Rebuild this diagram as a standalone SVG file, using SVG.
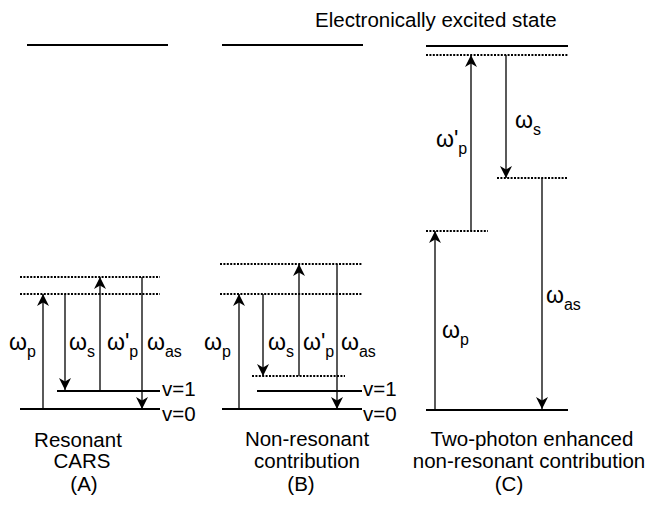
<svg xmlns="http://www.w3.org/2000/svg" width="645" height="506" viewBox="0 0 645 506">
<defs>
<style>
text{font-family:"Liberation Sans",Arial,sans-serif;fill:#000}
.t{font-size:20.5px}
.c{text-anchor:middle}
.w{font-size:23px}
.sub{font-size:16px}
.lvl{stroke:#000;stroke-width:2;fill:none}
.dot{stroke:#000;stroke-width:1.8;stroke-dasharray:2 1.4;fill:none}
.arr{stroke:#000;stroke-width:1.3;fill:none;marker-end:url(#ah)}
</style>
<marker id="ah" viewBox="0 0 12 12" refX="12" refY="6" markerWidth="13" markerHeight="12" markerUnits="userSpaceOnUse" orient="auto">
<path d="M0,0 L12,6 L0,12 L3.5,6 z" fill="#000"/>
</marker>
</defs>
<rect width="645" height="506" fill="#fff"/>

<g id="panelA">
<line class="lvl" x1="27" y1="45" x2="168" y2="45"/>
<line class="dot" x1="20" y1="277" x2="160" y2="277"/>
<line class="dot" x1="20" y1="294" x2="160" y2="294"/>
<line class="lvl" x1="57" y1="391" x2="160" y2="391"/>
<line class="lvl" x1="20" y1="409" x2="160" y2="409"/>
<text class="t" x="162" y="396">v=1</text>
<text class="t" x="162" y="421">v=0</text>
<text class="w" x="9" y="350">ω<tspan class="sub" dy="7">p</tspan></text>
<text class="w" x="69" y="350">ω<tspan class="sub" dy="7">s</tspan></text>
<text class="w" x="107" y="350">ω'<tspan class="sub" dy="7">p</tspan></text>
<text class="w" x="147" y="350">ω<tspan class="sub" dy="7">as</tspan></text>
<text class="t c" x="78" y="447">Resonant</text>
<text class="t c" x="82" y="468">CARS</text>
<text class="t c" x="84" y="491">(A)</text>
</g>

<g id="panelB">
<line class="lvl" x1="222" y1="45" x2="363" y2="45"/>
<line class="dot" x1="220" y1="264" x2="362" y2="264"/>
<line class="dot" x1="220" y1="294" x2="362" y2="294"/>
<line class="dot" x1="252" y1="376" x2="345" y2="376"/>
<line class="lvl" x1="257" y1="391" x2="362" y2="391"/>
<line class="lvl" x1="222" y1="409" x2="362" y2="409"/>
<text class="t" x="363" y="396">v=1</text>
<text class="t" x="363" y="421">v=0</text>
<text class="w" x="204" y="350">ω<tspan class="sub" dy="7">p</tspan></text>
<text class="w" x="268" y="350">ω<tspan class="sub" dy="7">s</tspan></text>
<text class="w" x="303" y="350">ω'<tspan class="sub" dy="7">p</tspan></text>
<text class="w" x="341" y="350">ω<tspan class="sub" dy="7">as</tspan></text>
<text class="t c" x="307" y="446">Non-resonant</text>
<text class="t c" x="307" y="468">contribution</text>
<text class="t c" x="301" y="491">(B)</text>
</g>

<g id="panelC">
<text class="t" x="315" y="27">Electronically excited state</text>
<line class="lvl" x1="426" y1="46" x2="568" y2="46"/>
<line class="dot" x1="426" y1="55" x2="568" y2="55"/>
<line class="dot" x1="497" y1="178" x2="567" y2="178"/>
<line class="dot" x1="426" y1="231" x2="488" y2="231"/>
<line class="lvl" x1="426" y1="410" x2="568" y2="410"/>
<text class="w" x="436" y="147">ω'<tspan class="sub" dy="7">p</tspan></text>
<text class="w" x="515" y="128">ω<tspan class="sub" dy="7">s</tspan></text>
<text class="w" x="546" y="303">ω<tspan class="sub" dy="7">as</tspan></text>
<text class="w" x="442" y="338">ω<tspan class="sub" dy="7">p</tspan></text>
<text class="t c" x="532" y="446">Two-photon enhanced</text>
<text class="t c" x="529" y="468">non-resonant contribution</text>
<text class="t c" x="509" y="491">(C)</text>
</g>

<g id="connectors">
<line class="arr" x1="43" y1="409" x2="43" y2="294"/>
<line class="arr" x1="65" y1="294" x2="65" y2="390"/>
<line class="arr" x1="100" y1="391" x2="100" y2="277"/>
<line class="arr" x1="142" y1="277" x2="142" y2="409"/>
<line class="arr" x1="239" y1="409" x2="239" y2="294"/>
<line class="arr" x1="263" y1="294" x2="263" y2="376"/>
<line class="arr" x1="299" y1="376" x2="299" y2="264"/>
<line class="arr" x1="337" y1="264" x2="337" y2="409"/>
<line class="arr" x1="435" y1="410" x2="435" y2="231"/>
<line class="arr" x1="471" y1="231" x2="471" y2="55"/>
<line class="arr" x1="506" y1="55" x2="506" y2="178"/>
<line class="arr" x1="542" y1="178" x2="542" y2="409"/>
</g>
</svg>
